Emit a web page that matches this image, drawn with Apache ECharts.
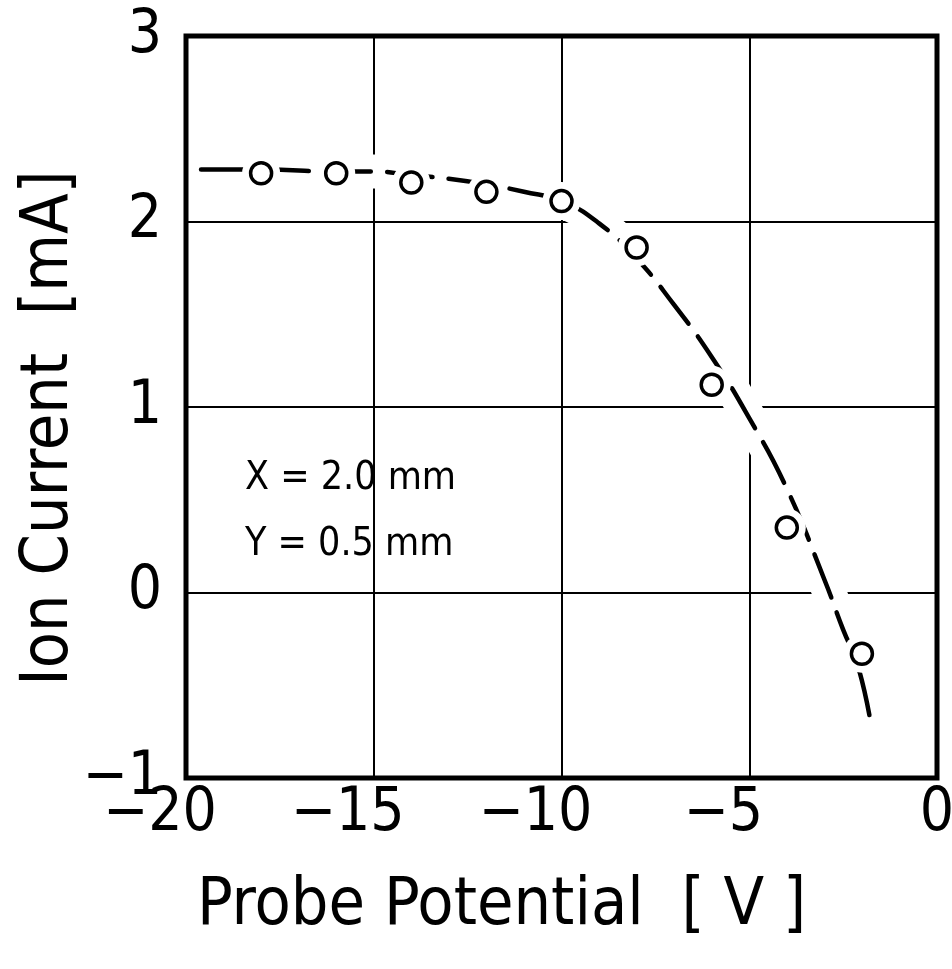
<!DOCTYPE html>
<html>
<head>
<meta charset="utf-8">
<title>Ion Current vs Probe Potential</title>
<script src="https://cdn.jsdelivr.net/npm/echarts@6/dist/echarts.min.js"></script>
<style>
  html, body { margin: 0; padding: 0; background: #fff; }
  #chart { width: 952px; height: 969px; }
</style>
</head>
<body>
<div id="chart"></div>
<script>
// Measured probe points (probe potential in V, ion current in mA)
const pointX = [-18, -16, -14, -12, -10, -8, -6, -4, -2];
const pointY = [2.26, 2.26, 2.21, 2.16, 2.11, 1.86, 1.12, 0.35, -0.33];

// Hand-drawn fitted characteristic through the points
const curveX = [-19.6, -18, -16, -15, -14, -13, -12, -11, -10, -9, -8, -7, -6, -5, -4, -3, -2.5, -2.1, -1.75];
const curveY = [2.28, 2.28, 2.27, 2.27, 2.25, 2.23, 2.20, 2.16, 2.11, 1.99, 1.80, 1.55, 1.27, 0.94, 0.56, 0.07, -0.20, -0.40, -0.72];

// Axis ticks
const xTicks = [-20, -15, -10, -5, 0];
const yTicks = [-1, 0, 1, 2, 3];

const annotationLines = ['X = 2.0 mm', 'Y = 0.5 mm'];

const FONT = "'DejaVu Sans Condensed', 'Liberation Sans Narrow', 'DejaVu Sans', sans-serif";
const minus = v => String(v).replace('-', '\u2212');

const pairs = (xs, ys) => xs.map((x, i) => [x, ys[i]]);
const curveData = pairs(curveX, curveY);
const pointData = pairs(pointX, pointY);

const chart = echarts.init(document.getElementById('chart'), null, { renderer: 'canvas' });

chart.setOption({
  backgroundColor: '#ffffff',
  animation: false,
  grid: {
    left: 186, right: 15, top: 36, bottom: 191,
    outerBoundsMode: 'none',
    show: true,
    borderColor: '#000',
    borderWidth: 5,
    backgroundColor: 'transparent'
  },
  xAxis: {
    type: 'value',
    min: xTicks[0],
    max: xTicks[xTicks.length - 1],
    interval: 5,
    axisLine: { show: false },
    axisTick: { show: false },
    splitLine: { show: true, lineStyle: { color: '#000', width: 2 } },
    axisLabel: {
      color: '#000', fontFamily: FONT, fontSize: 60, margin: 6,
      // digits sit over the grid line, the minus sign hangs to the left
      formatter: v => (v < 0 ? '{n|' + minus(v) + '}' : '{z|' + v + '}'),
      rich: {
        n: { color: '#000', fontFamily: FONT, fontSize: 60, padding: [0, 52, 0, 0] },
        z: { color: '#000', fontFamily: FONT, fontSize: 60 }
      }
    },
    name: 'Probe Potential  [ V ]',
    nameLocation: 'middle',
    nameGap: 96,
    nameTextStyle: {
      color: '#000', fontFamily: FONT, fontSize: 66,
      padding: [0, 120, 0, 0]
    }
  },
  yAxis: {
    type: 'value',
    min: yTicks[0],
    max: yTicks[yTicks.length - 1],
    interval: 1,
    axisLine: { show: false },
    axisTick: { show: false },
    splitLine: { show: true, lineStyle: { color: '#000', width: 2 } },
    axisLabel: {
      color: '#000', fontFamily: FONT, fontSize: 60, margin: 24,
      formatter: v => minus(v)
    }
  },
  graphic: [
    {
      // vertical axis title
      type: 'text',
      x: 50,
      y: 428,
      rotation: Math.PI / 2,
      style: {
        text: 'Ion Current  [mA]',
        fill: '#000',
        font: '66px ' + FONT,
        align: 'center',
        verticalAlign: 'middle'
      }
    },
    {
      type: 'group',
      left: 245,
      top: 459,
      children: annotationLines.map((t, i) => ({
        type: 'text',
        top: i * 66,
        style: { text: t, fill: '#000', font: '39px ' + FONT }
      }))
    }
  ],
  series: [
    {
      // white band under the curve that interrupts the grid lines
      type: 'line',
      data: curveData,
      smooth: 0.5,
      showSymbol: false,
      silent: true,
      z: 1,
      lineStyle: { color: '#fff', width: 34, cap: 'butt' }
    },
    {
      // dashed fitted curve
      type: 'line',
      data: curveData,
      smooth: 0.5,
      showSymbol: false,
      silent: true,
      z: 2,
      lineStyle: { color: '#000', width: 4.5, type: [46, 16], cap: 'round', join: 'round' }
    },
    {
      // clearance around each measured point
      type: 'scatter',
      data: pointData,
      symbol: 'circle',
      symbolSize: 38,
      silent: true,
      z: 3,
      itemStyle: { color: '#fff', opacity: 1 }
    },
    {
      // measured points, open circles
      type: 'scatter',
      data: pointData,
      symbol: 'circle',
      symbolSize: 21,
      z: 4,
      itemStyle: { color: '#fff', borderColor: '#000', borderWidth: 3.5, opacity: 1 }
    }
  ]
});
</script>
</body>
</html>
